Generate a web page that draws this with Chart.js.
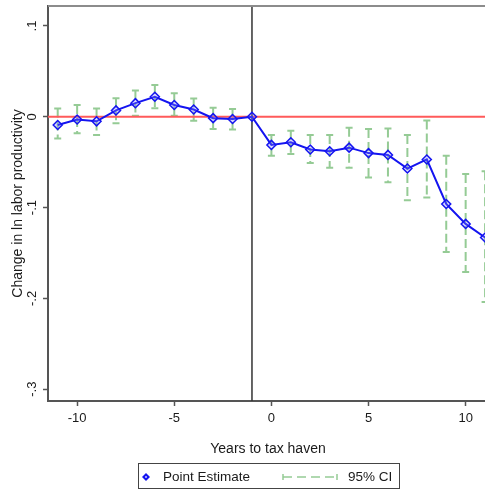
<!DOCTYPE html>
<html>
<head>
<meta charset="utf-8">
<script src="https://cdn.jsdelivr.net/npm/chart.js@4.4.1/dist/chart.umd.min.js"></script>
<style>
  html, body { margin: 0; padding: 0; background: #fff; overflow: hidden; }
  #wrap { width: 485px; height: 490px; overflow: hidden; }
</style>
</head>
<body>
<div id="wrap"><canvas id="chart" width="494" height="490" style="width:494px;height:490px"></canvas></div>
<script>
// years relative to tax haven
const years = [-11, -10, -9, -8, -7, -6, -5, -4, -3, -2, -1, 0, 1, 2, 3, 4, 5, 6, 7, 8, 9, 10, 11];
const pointEstimate = [-0.009, -0.003, -0.005, 0.007, 0.015, 0.022, 0.013, 0.008, -0.0015, -0.0025, 0,
  -0.031, -0.028, -0.036, -0.038, -0.034, -0.040, -0.042, -0.057, -0.047, -0.096, -0.118, -0.133];
const ciLow = [-0.024, -0.018, -0.020, -0.007, 0.001, 0.0095, 0.001, -0.0045, -0.0135, -0.014, null,
  -0.043, -0.041, -0.051, -0.056, -0.056, -0.067, -0.072, -0.092, -0.089, -0.149, -0.171, -0.204];
const ciHigh = [0.009, 0.013, 0.009, 0.0205, 0.029, 0.035, 0.026, 0.020, 0.010, 0.0085, null,
  -0.020, -0.0155, -0.020, -0.020, -0.012, -0.0135, -0.013, -0.020, -0.004, -0.043, -0.063, -0.060];

const xTicks = [-10, -5, 0, 5, 10];
const yTicks = [0.1, 0, -0.1, -0.2, -0.3];
const yTickLabels = ['.1', '0', '-.1', '-.2', '-.3'];

const refLineY = 0;       // red horizontal line
const eventYear = -1;     // black vertical line

const FONT = 'Arial, "Liberation Sans", sans-serif';
const TEXT = '#1a1a1a';
const CI_COLOR = '#95cb95';
const BLUE = '#1414f0';

const overlay = {
  id: 'overlay',
  beforeDatasetsDraw(chart) {
    const { ctx, chartArea, scales: { x, y } } = chart;
    ctx.save();
    ctx.beginPath();
    ctx.rect(chartArea.left, chartArea.top, chartArea.right - chartArea.left, chartArea.bottom - chartArea.top);
    ctx.clip();

    // confidence intervals
    ctx.strokeStyle = CI_COLOR;
    ctx.lineWidth = 2;
    years.forEach((yr, i) => {
      if (ciLow[i] == null) return;
      const px = x.getPixelForValue(yr);
      const top = y.getPixelForValue(ciHigh[i]);
      const bot = y.getPixelForValue(ciLow[i]);
      ctx.setLineDash([9, 4]);
      ctx.beginPath();
      ctx.moveTo(px, top);
      ctx.lineTo(px, bot);
      ctx.stroke();
      ctx.setLineDash([]);
      ctx.beginPath();
      ctx.moveTo(px - 3.5, top); ctx.lineTo(px + 3.5, top);
      ctx.moveTo(px - 3.5, bot); ctx.lineTo(px + 3.5, bot);
      ctx.stroke();
    });

    // zero line
    const zy = y.getPixelForValue(refLineY);
    ctx.strokeStyle = '#ff5a5a';
    ctx.lineWidth = 2;
    ctx.beginPath();
    ctx.moveTo(chartArea.left, zy);
    ctx.lineTo(chartArea.right, zy);
    ctx.stroke();

    // event line
    const ex = x.getPixelForValue(eventYear);
    ctx.strokeStyle = '#333';
    ctx.lineWidth = 1.5;
    ctx.beginPath();
    ctx.moveTo(ex, chartArea.top);
    ctx.lineTo(ex, chartArea.bottom);
    ctx.stroke();
    ctx.restore();
  },
  afterDraw(chart) {
    const { ctx, chartArea } = chart;
    ctx.save();
    // plot region frame (top / right)
    ctx.strokeStyle = '#8c8c8c';
    ctx.lineWidth = 2;
    ctx.beginPath();
    ctx.moveTo(chartArea.left, chartArea.top);
    ctx.lineTo(chartArea.right, chartArea.top);
    ctx.lineTo(chartArea.right, chartArea.bottom);
    ctx.stroke();

    // legend
    ctx.strokeStyle = '#444';
    ctx.lineWidth = 1;
    ctx.strokeRect(138.5, 463.5, 261, 25);
    const ly = 477;
    ctx.fillStyle = BLUE;
    ctx.beginPath();
    ctx.moveTo(146, ly - 4); ctx.lineTo(150, ly); ctx.lineTo(146, ly + 4); ctx.lineTo(142, ly);
    ctx.closePath();
    ctx.fill();
    ctx.fillStyle = '#9a9aff';
    ctx.fillRect(145, ly - 1, 2, 2);

    ctx.fillStyle = TEXT;
    ctx.font = '13.5px ' + FONT;
    ctx.textBaseline = 'middle';
    ctx.fillText('Point Estimate', 163, ly);
    ctx.fillText('95% CI', 348, ly);

    ctx.strokeStyle = CI_COLOR;
    ctx.lineWidth = 1.5;
    ctx.setLineDash([9, 5]);
    ctx.beginPath();
    ctx.moveTo(283, ly); ctx.lineTo(337, ly);
    ctx.stroke();
    ctx.setLineDash([]);
    ctx.beginPath();
    ctx.moveTo(283, ly - 3); ctx.lineTo(283, ly + 3);
    ctx.moveTo(337, ly - 3); ctx.lineTo(337, ly + 3);
    ctx.stroke();
    ctx.restore();
  }
};

new Chart(document.getElementById('chart'), {
  type: 'line',
  data: {
    labels: years,
    datasets: [{
      label: 'Point Estimate',
      data: years.map((yr, i) => ({ x: yr, y: pointEstimate[i] })),
      borderColor: BLUE,
      borderWidth: 2,
      pointStyle: 'rectRot',
      pointRadius: 4.5,
      pointBorderWidth: 1.5,
      pointBorderColor: BLUE,
      pointBackgroundColor: 'rgba(130,130,255,0.3)',
      tension: 0,
      fill: false
    }]
  },
  options: {
    responsive: false,
    animation: false,
    layout: { padding: { top: 5, right: 3, bottom: 32, left: 0 } },
    plugins: { legend: { display: false }, tooltip: { enabled: false } },
    scales: {
      x: {
        type: 'linear',
        min: -11.5,
        max: 11.15,
        afterBuildTicks: (s) => { s.ticks = xTicks.map(v => ({ value: v })); },
        afterFit: (s) => { s.height = 57; s.paddingLeft = 0; s.paddingRight = 0; },
        grid: { display: true, drawOnChartArea: false, drawTicks: true, tickLength: 5, color: '#555', tickWidth: 1.5 },
        border: { display: true, color: '#555', width: 2 },
        ticks: { color: TEXT, font: { family: FONT, size: 13 }, padding: 5, maxRotation: 0 },
        title: { display: true, text: 'Years to tax haven', color: TEXT, font: { family: FONT, size: 14 }, padding: { top: 0, bottom: 0 } }
      },
      y: {
        type: 'linear',
        min: -0.313,
        max: 0.122,
        afterBuildTicks: (s) => { s.ticks = yTicks.map(v => ({ value: v })); },
        afterFit: (s) => { s.width = 48; s.paddingTop = 0; s.paddingBottom = 0; },
        grid: { display: true, drawOnChartArea: false, drawTicks: true, tickLength: 5, color: '#555', tickWidth: 1.5 },
        border: { display: true, color: '#555', width: 2 },
        ticks: {
          color: TEXT, font: { family: FONT, size: 13 }, padding: 3,
          minRotation: 90, maxRotation: 90, crossAlign: 'center',
          callback: (v, i) => yTickLabels[i]
        },
        title: { display: true, text: 'Change in ln labor productivity', color: TEXT, font: { family: FONT, size: 14 }, padding: { top: 10, bottom: 0 } }
      }
    }
  },
  plugins: [overlay]
});
</script>
</body>
</html>
